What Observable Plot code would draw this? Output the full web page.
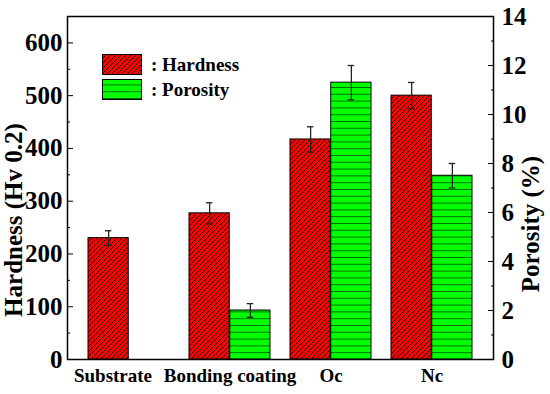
<!DOCTYPE html>
<html><head><meta charset="utf-8">
<script src="https://cdn.jsdelivr.net/npm/d3@7"></script>
<script src="https://cdn.jsdelivr.net/npm/@observablehq/plot@0.6"></script>
<style>
body{margin:0;background:#fff}
#wrap{position:relative;width:550px;height:394px}
.legend{position:absolute;left:102px;top:54px;font-family:"Liberation Serif",serif;font-weight:bold;font-size:19px;color:#000}
.legend .row{display:flex;align-items:center;height:21px;margin-bottom:4px}
.legend svg{margin-right:9px;display:block}
</style></head><body><div id="wrap"></div>
<script>
const categories = ["Substrate", "Bonding coating", "Oc", "Nc"];
const hardness = [230, 277, 417, 500];
const hardnessErr = [14, 20, 24, 25];
const porosity = [null, 2.0, 11.3, 7.5];
const porosityErr = [null, 0.28, 0.7, 0.5];
const hardnessTicks = [0, 100, 200, 300, 400, 500, 600];
const hardnessMinor = [50, 150, 250, 350, 450, 550];
const porosityTicks = [0, 2, 4, 6, 8, 10, 12, 14];
const porosityMinor = [1, 3, 5, 7, 9, 11, 13];
const seriesNames = ["Hardness", "Porosity"];

const H_MAX = 650, P_MAX = 14;
const k = H_MAX / P_MAX;
const W = 550, HGT = 394, mL = 67, mR = 57, mT = 16, mB = 35;

const xOpts = {type: "band", domain: categories, range: [mL, W - mR], paddingInner: 0.197, paddingOuter: 0.197};
const bw = Plot.scale({x: xOpts}).bandwidth;

const hRows = categories.map((c, i) => ({cat: c, v: hardness[i], lo: hardness[i] - hardnessErr[i], hi: hardness[i] + hardnessErr[i]}));
const pRows = categories.map((c, i) => porosity[i] == null ? null :
  ({cat: c, v: porosity[i] * k, lo: (porosity[i] - porosityErr[i]) * k, hi: (porosity[i] + porosityErr[i]) * k})).filter(d => d);

const errStyle = {stroke: "#222", strokeWidth: 1.3};
const capW = 7;

const plot = Plot.plot({
  width: W, height: HGT,
  marginLeft: mL, marginRight: mR, marginTop: mT, marginBottom: mB,
  style: {fontFamily: "'Liberation Serif', 'Times New Roman', serif", fontWeight: "bold", background: "white", color: "black", overflow: "visible"},
  x: {...xOpts, label: null, axis: null},
  y: {domain: [0, H_MAX], label: null, axis: null},
  marks: [
    Plot.barY(hRows, {x: "cat", y: "v", fill: "url(#hatchRed)", stroke: "#000", strokeWidth: 1, insetRight: bw / 2}),
    Plot.barY(pRows, {x: "cat", y: "v", fill: "url(#hatchGreen)", stroke: "#000", strokeWidth: 1, insetLeft: bw / 2}),
    Plot.ruleX(hRows, {x: "cat", y1: "lo", y2: "hi", dx: -bw / 4, ...errStyle}),
    Plot.tickY(hRows, {x: "cat", y: "hi", dx: -bw / 4, insetLeft: bw / 2 - capW / 2, insetRight: bw / 2 - capW / 2, ...errStyle}),
    Plot.tickY(hRows, {x: "cat", y: "lo", dx: -bw / 4, insetLeft: bw / 2 - capW / 2, insetRight: bw / 2 - capW / 2, ...errStyle}),
    Plot.ruleX(pRows, {x: "cat", y1: "lo", y2: "hi", dx: bw / 4, ...errStyle}),
    Plot.tickY(pRows, {x: "cat", y: "hi", dx: bw / 4, insetLeft: bw / 2 - capW / 2, insetRight: bw / 2 - capW / 2, ...errStyle}),
    Plot.tickY(pRows, {x: "cat", y: "lo", dx: bw / 4, insetLeft: bw / 2 - capW / 2, insetRight: bw / 2 - capW / 2, ...errStyle}),
    // left axis
    Plot.axisY({anchor: "left", ticks: hardnessTicks, tickSize: 0, tickPadding: 5, fontSize: 25, label: null}),
    Plot.axisY({anchor: "left", ticks: hardnessTicks, tickSize: 6, dx: 6, text: null, label: null}),
    Plot.axisY({anchor: "left", ticks: hardnessMinor, tickSize: 3, dx: 3, text: null, label: null}),
    // right axis
    Plot.axisY({anchor: "right", ticks: porosityTicks.map(p => p * k), tickFormat: d => Math.round(d / k), tickSize: 0, tickPadding: 8, fontSize: 25, label: null}),
    Plot.axisY({anchor: "right", ticks: porosityTicks.map(p => p * k), tickSize: 6, dx: -6, text: null, label: null}),
    Plot.axisY({anchor: "right", ticks: porosityMinor.map(p => p * k), tickSize: 3, dx: -3, text: null, label: null}),
    // x axis
    Plot.axisX({ticks: categories.slice(1), tickSize: 0, tickPadding: 9, fontSize: 19, label: null}),
    Plot.axisX({ticks: categories.slice(0, 1), tickSize: 0, tickPadding: 9, fontSize: 19, label: null, dx: -16}),
    // titles
    Plot.text(["Hardness (Hv 0.2)"], {frameAnchor: "left", textAnchor: "middle", rotate: -90, dx: -54, dy: 32, fontSize: 25}),
    Plot.text(["Porosity (%)"], {frameAnchor: "right", textAnchor: "middle", rotate: -90, dx: 37, dy: 36, fontSize: 25}),
    Plot.frame({stroke: "#000", strokeWidth: 1.5})
  ]
});

const y0 = plot.scale("y").apply(0);
const ns = "http://www.w3.org/2000/svg";
const defs = document.createElementNS(ns, "defs");
defs.innerHTML = `
<pattern id="hatchRed" patternUnits="userSpaceOnUse" width="5" height="5">
  <rect width="5" height="5" fill="#ff0000"/>
  <path d="M-1,1 L1,-1 M0,5 L5,0 M4,6 L6,4" stroke="#000" stroke-width="0.9"/>
</pattern>
<pattern id="hatchGreen" patternUnits="userSpaceOnUse" width="10" height="6.8" y="${y0 % 6.8}">
  <rect width="10" height="6.8" fill="#00ff00"/>
  <path d="M0,0 H10" stroke="#000" stroke-width="1.1"/>
</pattern>`;
plot.insertBefore(defs, plot.firstChild);

const wrap = document.getElementById("wrap");
wrap.appendChild(plot);

const legend = document.createElement("div");
legend.className = "legend";
legend.innerHTML = seriesNames.map((s, i) => `
<div class="row"><svg width="40" height="21"><rect x="0.5" y="0.5" width="39" height="20" fill="url(#${i === 0 ? "hatchRed" : "hatchGreen"})" stroke="#000" stroke-width="1"/></svg><span>: ${s}</span></div>`).join("");
wrap.appendChild(legend);
</script>
</body></html>
